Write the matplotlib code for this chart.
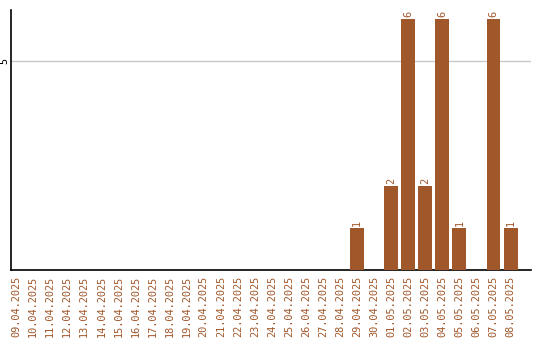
import matplotlib
matplotlib.use("Agg")
import matplotlib.pyplot as plt

dates = ["09.04.2025", "10.04.2025", "11.04.2025", "12.04.2025", "13.04.2025",
         "14.04.2025", "15.04.2025", "16.04.2025", "17.04.2025", "18.04.2025",
         "19.04.2025", "20.04.2025", "21.04.2025", "22.04.2025", "23.04.2025",
         "24.04.2025", "25.04.2025", "26.04.2025", "27.04.2025", "28.04.2025",
         "29.04.2025", "30.04.2025", "01.05.2025", "02.05.2025", "03.05.2025",
         "04.05.2025", "05.05.2025", "06.05.2025", "07.05.2025", "08.05.2025"]
counts = [0, 0, 0, 0, 0, 0, 0, 0, 0, 0,
          0, 0, 0, 0, 0, 0, 0, 0, 0, 0,
          1, 0, 2, 6, 2, 6, 1, 0, 6, 1]

bar_color = "#a0572a"
text_color = "#a0572a"
fs = 7.4

fig = plt.figure(figsize=(5.4, 3.4), dpi=100)
ax = fig.add_axes([11 / 540, 70 / 340, 520 / 540, 260 / 340])

x = list(range(len(dates)))
ax.bar(x, counts, width=0.82, color=bar_color, zorder=3)

for xi, c in zip(x, counts):
    if c > 0:
        ax.text(xi, c + 0.06, str(c), rotation=90, ha="center", va="bottom",
                fontsize=fs, color=text_color, family="DejaVu Sans Mono")

ax.set_xlim(-0.3, 30.2)
ax.set_ylim(0, 6.22)
ax.set_yticks([5])
ax.set_yticklabels(["5"], rotation=90, va="center", fontsize=fs,
                   family="DejaVu Sans Mono")
ax.yaxis.grid(True, color="#c8c8c8", linewidth=1, zorder=0)
ax.set_xticks(x)
ax.set_xticklabels(dates, rotation=90, fontsize=fs, color=text_color,
                   family="DejaVu Sans Mono")
ax.tick_params(axis="both", length=0)
ax.tick_params(axis="x", pad=4)
ax.tick_params(axis="y", pad=1)

for s in ["top", "right"]:
    ax.spines[s].set_visible(False)
for s in ["left", "bottom"]:
    ax.spines[s].set_color("black")
    ax.spines[s].set_linewidth(1.2)

fig.savefig("out.png", dpi=100)
